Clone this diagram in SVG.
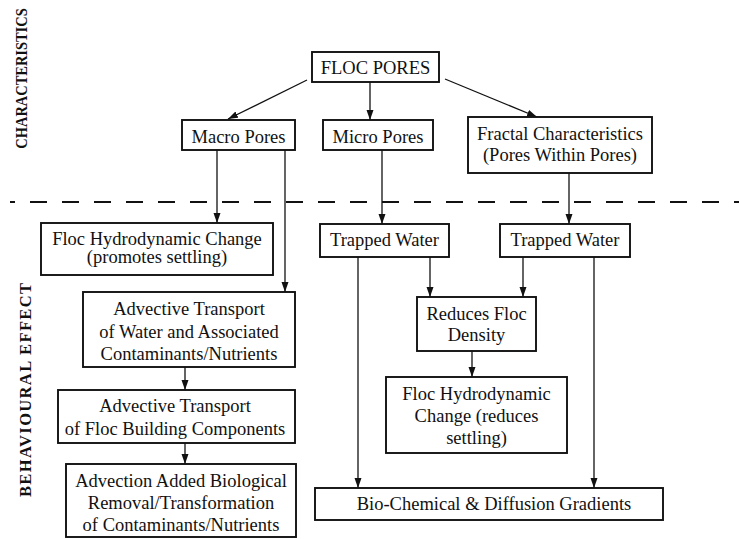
<svg xmlns="http://www.w3.org/2000/svg" width="739" height="539" viewBox="0 0 739 539">
  <style>
    .box { fill: #fff; stroke: #111; stroke-width: 1.9; }
    text { font-family: "Liberation Serif", "DejaVu Serif", "Times New Roman", serif; fill: #111; text-anchor: middle; }
    .t { font-size: 18.5px; }
    .side { font-size: 16.5px; font-weight: bold; }
    .link { fill: none; stroke: #111; stroke-width: 1.3; marker-end: url(#arrow); }
    .divider { stroke: #111; stroke-width: 2; stroke-dasharray: 17 15; stroke-dashoffset: 12; }
  </style>
  <defs>
    <marker id="arrow" markerUnits="userSpaceOnUse" markerWidth="10" markerHeight="8" refX="10" refY="4" orient="auto">
      <path d="M0,0.5 L10,4 L0,7.5 z" fill="#111"/>
    </marker>
  </defs>
  <rect width="739" height="539" fill="#fff"/>

  <!-- section labels (condensed horizontally so the upper one fits above the divider) -->
  <text class="side" transform="translate(27,78.5) rotate(-90) scale(0.875,1)">CHARACTERISTICS</text>
  <text class="side" transform="translate(31,390) rotate(-90)" textLength="214" lengthAdjust="spacing">BEHAVIOURAL EFFECT</text>

  <!-- section divider -->
  <line class="divider" x1="10" y1="202" x2="739" y2="202"/>

  <!-- connectors -->
  <g id="connectors">
    <line class="link" x1="307" y1="80" x2="228" y2="119"/>
    <line class="link" x1="370" y1="82" x2="370" y2="120"/>
    <line class="link" x1="445" y1="79" x2="537" y2="117"/>
    <line class="link" x1="217" y1="150" x2="217" y2="223"/>
    <line class="link" x1="285" y1="150" x2="285" y2="292"/>
    <line class="link" x1="382" y1="150" x2="382" y2="224"/>
    <line class="link" x1="569" y1="173" x2="569" y2="224"/>
    <line class="link" x1="430" y1="257" x2="430" y2="297"/>
    <line class="link" x1="523" y1="257" x2="523" y2="297"/>
    <line class="link" x1="358" y1="257" x2="358" y2="488"/>
    <line class="link" x1="594" y1="257" x2="594" y2="488"/>
    <line class="link" x1="472" y1="351" x2="472" y2="377"/>
    <line class="link" x1="185" y1="367" x2="185" y2="390"/>
    <line class="link" x1="185" y1="443" x2="185" y2="464"/>
  </g>

  <!-- characteristics -->
  <g id="floc-pores">
    <rect class="box" x="312" y="52" width="127" height="30"/>
    <text class="t" x="375.5" y="74">FLOC PORES</text>
  </g>
  <g id="macro-pores">
    <rect class="box" x="182" y="120" width="113" height="30"/>
    <text class="t" x="238.5" y="143">Macro Pores</text>
  </g>
  <g id="micro-pores">
    <rect class="box" x="323" y="120" width="110" height="30"/>
    <text class="t" x="378" y="143">Micro Pores</text>
  </g>
  <g id="fractal">
    <rect class="box" x="468" y="117" width="184" height="56"/>
    <text class="t" x="560" y="140">Fractal Characteristics</text>
    <text class="t" x="560" y="161">(Pores Within Pores)</text>
  </g>

  <!-- behavioural effects -->
  <g id="hydro-promotes">
    <rect class="box" x="41" y="223" width="232" height="52"/>
    <text class="t" x="157" y="245">Floc Hydrodynamic Change</text>
    <text class="t" x="157" y="263">(promotes settling)</text>
  </g>
  <g id="trapped-water-micro">
    <rect class="box" x="320" y="224" width="129" height="33"/>
    <text class="t" x="384.5" y="246">Trapped Water</text>
  </g>
  <g id="trapped-water-fractal">
    <rect class="box" x="500" y="224" width="130" height="33"/>
    <text class="t" x="565" y="246">Trapped Water</text>
  </g>
  <g id="advective-water">
    <rect class="box" x="83" y="292" width="212" height="75"/>
    <text class="t" x="189" y="315">Advective Transport</text>
    <text class="t" x="189" y="338">of Water and Associated</text>
    <text class="t" x="189" y="360">Contaminants/Nutrients</text>
  </g>
  <g id="advective-floc">
    <rect class="box" x="58" y="390" width="237" height="53"/>
    <text class="t" x="175" y="412">Advective Transport</text>
    <text class="t" x="175" y="435">of Floc Building Components</text>
  </g>
  <g id="advection-removal">
    <rect class="box" x="66" y="464" width="230" height="73"/>
    <text class="t" x="181" y="487">Advection Added Biological</text>
    <text class="t" x="181" y="509">Removal/Transformation</text>
    <text class="t" x="181" y="531">of Contaminants/Nutrients</text>
  </g>
  <g id="reduces-density">
    <rect class="box" x="417" y="297" width="119" height="54"/>
    <text class="t" x="476.5" y="320">Reduces Floc</text>
    <text class="t" x="476.5" y="341">Density</text>
  </g>
  <g id="hydro-reduces">
    <rect class="box" x="386" y="377" width="181" height="76"/>
    <text class="t" x="476.5" y="400">Floc Hydrodynamic</text>
    <text class="t" x="476.5" y="422">Change (reduces</text>
    <text class="t" x="476.5" y="444">settling)</text>
  </g>
  <g id="gradients">
    <rect class="box" x="315" y="488" width="348" height="32"/>
    <text class="t" x="494" y="510">Bio-Chemical &amp; Diffusion Gradients</text>
  </g>
</svg>
